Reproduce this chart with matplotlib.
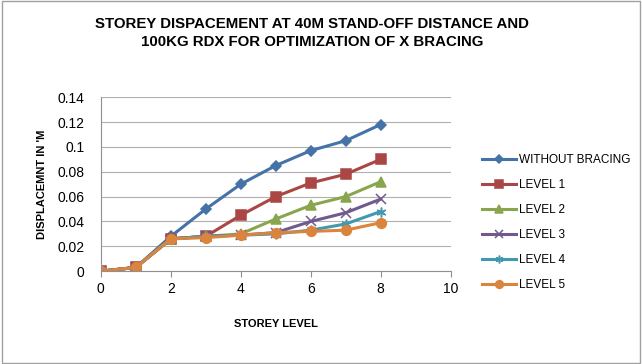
import matplotlib.pyplot as plt
from matplotlib.ticker import FuncFormatter
from matplotlib.patches import Rectangle

plt.rcParams['font.family'] = ['Liberation Sans', 'DejaVu Sans']

storey = [0, 1, 2, 3, 4, 5, 6, 7, 8]
without_bracing = [0, 0.003, 0.028, 0.050, 0.070, 0.085, 0.097, 0.105, 0.118]
level_1 = [0, 0.003, 0.026, 0.028, 0.045, 0.060, 0.071, 0.078, 0.090]
level_2 = [0, 0.003, 0.026, 0.028, 0.030, 0.042, 0.053, 0.060, 0.072]
level_3 = [0, 0.003, 0.026, 0.028, 0.029, 0.031, 0.040, 0.047, 0.058]
level_4 = [0, 0.003, 0.026, 0.028, 0.029, 0.030, 0.033, 0.038, 0.048]
level_5 = [0, 0.003, 0.026, 0.027, 0.029, 0.031, 0.032, 0.033, 0.039]

series = [
    ("WITHOUT BRACING", without_bracing, "#4572A7", "D", 5),
    ("LEVEL 1", level_1, "#AA4643", "s", 6.5),
    ("LEVEL 2", level_2, "#89A54E", "^", 7),
    ("LEVEL 3", level_3, "#71588F", "x", 6.5),
    ("LEVEL 4", level_4, "#4198AF", (6, 2, 0), 7),
    ("LEVEL 5", level_5, "#DB843D", "o", 7),
]

fig = plt.figure(figsize=(6.42, 3.64), dpi=100)
fig.patches.append(Rectangle((0.003, 0.003), 0.994, 0.994, transform=fig.transFigure,
                             fill=False, edgecolor="#a0a0a0", linewidth=1))
ax = fig.add_axes([0.157, 0.255, 0.545, 0.478])

for name, vals, col, mk, ms in series:
    ax.plot(storey, vals, color=col, linewidth=2.2, marker=mk, markersize=ms,
            markeredgewidth=1.1, label=name)

ax.set_xlim(0, 10)
ax.set_ylim(0, 0.14)
ax.set_xticks(range(0, 11, 2))
ax.set_yticks([0, 0.02, 0.04, 0.06, 0.08, 0.10, 0.12, 0.14])
ax.yaxis.set_major_formatter(FuncFormatter(lambda v, p: "%g" % round(v, 2)))
ax.grid(axis="y", color="#b0b0b0", linewidth=0.8)
ax.set_axisbelow(True)
for s in ["top", "right"]:
    ax.spines[s].set_visible(False)
ax.spines["left"].set_color("#909090")
ax.spines["bottom"].set_color("#909090")
ax.tick_params(axis="y", length=0, labelsize=10, pad=12)
ax.tick_params(axis="x", length=4, color="#909090", labelsize=10)

ax.set_xlabel("STOREY LEVEL", fontsize=8, fontweight="bold", labelpad=17)
ax.set_ylabel("DISPLACEMNT IN 'M", fontsize=8, fontweight="bold", labelpad=7)

fig.text(0.486, 0.91, "STOREY DISPACEMENT AT 40M STAND-OFF DISTANCE AND\n100KG RDX FOR OPTIMIZATION OF X BRACING",
         ha="center", va="center", fontsize=10.8, fontweight="bold", linespacing=1.4)

fig.legend(loc="upper left", bbox_to_anchor=(0.735, 0.605), frameon=False, fontsize=8.5,
           handlelength=2.8, labelspacing=1.1, handletextpad=0.3, markerscale=0.8)

fig.savefig("out.png", dpi=100)
